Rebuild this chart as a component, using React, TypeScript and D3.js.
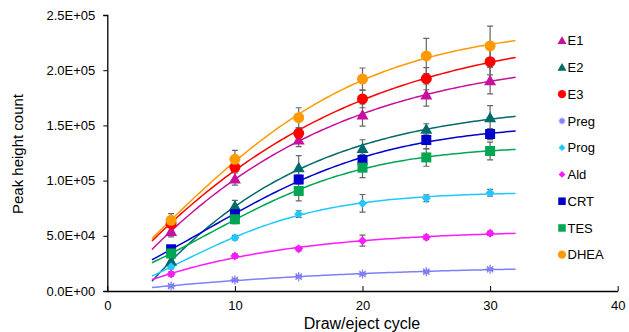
import React, { useRef, useEffect } from 'react';
import * as d3 from 'd3';

// draw/eject cycles measured
const cycles = [5, 10, 15, 20, 25, 30];

const seriesNames = ['E1', 'E2', 'E3', 'Preg', 'Prog', 'Ald', 'CRT', 'TES', 'DHEA'];

// mean peak height per cycle
const e1 = [54000, 101400, 136800, 159400, 177500, 190500];
const e2 = [27000, 77000, 111700, 129000, 146500, 157000];
const e3 = [61000, 112000, 142800, 174000, 192300, 207700];
const preg = [4500, 10000, 13000, 15400, 17500, 19700];
const prog = [22000, 48300, 69700, 79400, 84000, 89000];
const ald = [15400, 31700, 38300, 45600, 48600, 52300];
const crt = [37800, 69500, 101000, 118700, 136800, 142200];
const tes = [34000, 65000, 90600, 111700, 121000, 126800];
const dhea = [64000, 119300, 157000, 192000, 212900, 222000];

// standard deviations
const e1Err = [5000, 5500, 6000, 10000, 10000, 12000];
const e2Err = [4000, 5000, 11000, 8000, 5000, 11000];
const e3Err = [3000, 4000, 5000, 8000, 10000, 12000];
const pregErr = [1000, 1000, 1000, 1000, 1000, 1000];
const progErr = [2000, 2000, 3000, 8000, 3000, 3000];
const aldErr = [2000, 2000, 2000, 5000, 2000, 2000];
const crtErr = [3000, 3000, 4000, 5000, 8000, 5000];
const tesErr = [3000, 4000, 9000, 9000, 8000, 8000];
const dheaErr = [6000, 8000, 9000, 10000, 16000, 18000];

const yTicks = [0, 50000, 100000, 150000, 200000, 250000];
const xTicks = [0, 10, 20, 30, 40];

const colors: Record<string, string> = {
  E1: '#C8109C',
  E2: '#006B6B',
  E3: '#FF0000',
  Preg: '#7F7FFF',
  Prog: '#1FC8FF',
  Ald: '#FF19FF',
  CRT: '#0000CC',
  TES: '#00A651',
  DHEA: '#FF9A00',
};

const shapes: Record<string, string> = {
  E1: 'triangle', E2: 'triangle', E3: 'circle', Preg: 'star', Prog: 'diamond',
  Ald: 'diamond', CRT: 'square', TES: 'square', DHEA: 'circle',
};

const values = [e1, e2, e3, preg, prog, ald, crt, tes, dhea];
const errors = [e1Err, e2Err, e3Err, pregErr, progErr, aldErr, crtErr, tesErr, dheaErr];

// least squares fit y = b + A / (1 + exp(-k (x - x0)))
const fitLogistic = (xs: number[], ys: number[]) => {
  let best = { A: 0, b: 0, k: 0, x0: 0, sse: Infinity };
  const n = xs.length;
  const sy = d3.sum(ys);
  for (let k = 0.03; k <= 0.5; k += 0.005) {
    for (let x0 = -15; x0 <= 25; x0 += 0.2) {
      const f = xs.map(x => 1 / (1 + Math.exp(-k * (x - x0))));
      const sf = d3.sum(f);
      const sff = d3.sum(f, v => v * v);
      const sfy = d3.sum(f, (v, i) => v * ys[i]);
      const det = sff * n - sf * sf;
      if (Math.abs(det) < 1e-9) continue;
      const A = (sfy * n - sf * sy) / det;
      const b = (sff * sy - sf * sfy) / det;
      const sse = d3.sum(f, (v, i) => (b + A * v - ys[i]) ** 2);
      if (sse < best.sse) best = { A, b, k, x0, sse };
    }
  }
  return (x: number) => best.b + best.A / (1 + Math.exp(-best.k * (x - best.x0)));
};

const fmtExp = (v: number) => {
  if (v === 0) return '0.0E+00';
  const e = Math.floor(Math.log10(v));
  const m = v / Math.pow(10, e);
  return `${m.toFixed(1)}E+${String(e).padStart(2, '0')}`;
};

const drawMarker = (g: any, shape: string, cx: number, cy: number, color: string, s: number) => {
  if (shape === 'circle') {
    g.append('circle').attr('cx', cx).attr('cy', cy).attr('r', s * 0.55).attr('fill', color);
  } else if (shape === 'square') {
    const h = s * 0.5;
    g.append('rect').attr('x', cx - h).attr('y', cy - h).attr('width', 2 * h).attr('height', 2 * h).attr('fill', color);
  } else if (shape === 'triangle') {
    const h = s * 0.6;
    g.append('path')
      .attr('d', `M${cx},${cy - h}L${cx + h},${cy + h * 0.75}L${cx - h},${cy + h * 0.75}Z`)
      .attr('fill', color);
  } else if (shape === 'diamond') {
    const h = s * 0.45;
    g.append('path')
      .attr('d', `M${cx},${cy - h}L${cx + h},${cy}L${cx},${cy + h}L${cx - h},${cy}Z`)
      .attr('fill', color);
  } else if (shape === 'star') {
    const h = s * 0.45;
    g.append('path')
      .attr('d', `M${cx - h},${cy}L${cx + h},${cy}M${cx - h * 0.7},${cy - h * 0.7}L${cx + h * 0.7},${cy + h * 0.7}M${cx - h * 0.7},${cy + h * 0.7}L${cx + h * 0.7},${cy - h * 0.7}M${cx},${cy - h}L${cx},${cy + h}`)
      .attr('stroke', color).attr('stroke-width', 1.3).attr('fill', 'none');
  }
};

const PeakChart = ({ width = 629, height = 332 }) => {
  const svgRef = useRef<SVGSVGElement>(null);

  useEffect(() => {
    const svg = d3.select(svgRef.current);
    svg.selectAll('*').remove();

    const font = 'Liberation Sans, Arial, sans-serif';

    const x = d3.scaleLinear().domain([0, 40]).range([107.3, 617.7]);
    const y = d3.scaleLinear().domain([0, 250000]).range([291, 15]);

    // Axes
    const yAxis = svg.append('g').attr('transform', `translate(${x(0)},0)`)
      .call(d3.axisLeft(y).tickValues(yTicks).tickSize(4).tickFormat(d => fmtExp(+d)));
    yAxis.select('.domain').attr('stroke', '#000').attr('stroke-width', 1.3);
    yAxis.selectAll('.tick line').attr('stroke', '#000');
    yAxis.selectAll('text').attr('font-family', font).attr('font-size', 13).attr('fill', '#000').attr('x', -12);

    const xAxis = svg.append('g').attr('transform', `translate(0,${y(0)})`)
      .call(d3.axisBottom(x).tickValues(xTicks).tickSizeInner(-5).tickSizeOuter(0));
    xAxis.select('.domain').attr('stroke', '#000').attr('stroke-width', 1.3);
    xAxis.selectAll('.tick line').attr('stroke', '#000');
    xAxis.selectAll('text').attr('font-family', font).attr('font-size', 13).attr('fill', '#000').attr('y', 10);

    // Axis titles
    svg.append('text')
      .attr('x', 362).attr('y', 329)
      .attr('text-anchor', 'middle')
      .attr('font-family', font).attr('font-size', 16)
      .text('Draw/eject cycle');

    svg.append('text')
      .attr('transform', 'translate(23,154) rotate(-90)')
      .attr('text-anchor', 'middle')
      .attr('font-family', font).attr('font-size', 15)
      .text('Peak height count');

    const plot = svg.append('g');

    // Fitted curves
    const line = d3.line<number>().x(d => x(d[0])).y(d => y(d[1]));
    seriesNames.forEach((name, i) => {
      const f = fitLogistic(cycles, values[i]);
      const pts = d3.range(3.5, 32.01, 0.25).map(t => [t, f(t)]);
      plot.append('path')
        .datum(pts)
        .attr('d', line as any)
        .attr('fill', 'none')
        .attr('stroke', colors[name])
        .attr('stroke-width', 1.5);
    });

    // Error bars
    seriesNames.forEach((name, i) => {
      cycles.forEach((c, j) => {
        const v = values[i][j];
        const e = errors[i][j];
        const cx = x(c);
        plot.append('path')
          .attr('d', `M${cx},${y(v - e)}V${y(v + e)}M${cx - 3},${y(v - e)}H${cx + 3}M${cx - 3},${y(v + e)}H${cx + 3}`)
          .attr('stroke', '#666')
          .attr('stroke-width', 1.2)
          .attr('fill', 'none');
      });
    });

    // Markers
    seriesNames.forEach((name, i) => {
      cycles.forEach((c, j) => {
        drawMarker(plot, shapes[name], x(c), y(values[i][j]), colors[name], 10);
      });
    });

    // Legend
    const legend = svg.append('g');
    seriesNames.forEach((name, i) => {
      const ly = 40.7 + i * 26.75;
      drawMarker(legend, shapes[name], 562, ly, colors[name], 7.5);
      legend.append('text')
        .attr('x', 567.5).attr('y', ly + 4.7)
        .attr('font-family', font).attr('font-size', 13)
        .text(name);
    });
  }, [width, height]);

  return (
    <svg
      ref={svgRef}
      width={width}
      height={height}
      style={{ position: 'absolute', left: 0, top: 0, background: '#fff' }}
    />
  );
};

export default function App() {
  return <PeakChart />;
}
